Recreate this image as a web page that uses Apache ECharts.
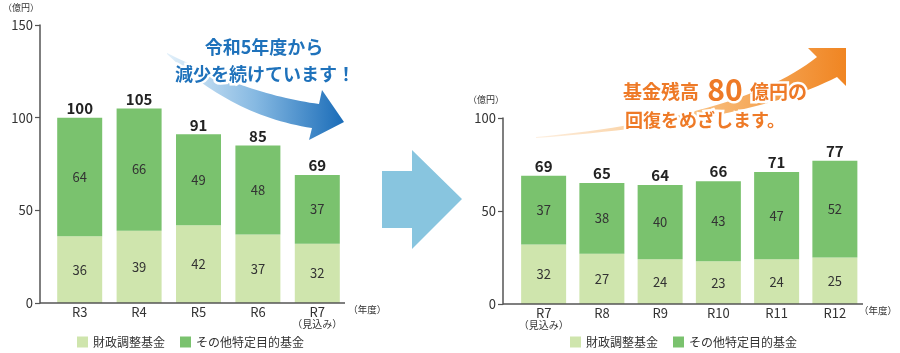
<!DOCTYPE html>
<html>
<head>
<meta charset="utf-8">
<script src="https://cdn.jsdelivr.net/npm/echarts@6.0.0/dist/echarts.min.js"></script>
<style>
  html, body { margin: 0; padding: 0; background: #fff; }
  #chart { width: 900px; height: 353px; }
</style>
</head>
<body>
<div id="chart"></div>
<script>
// 左：これまでの推移（億円）
const leftYears = ['R3', 'R4', 'R5', 'R6', 'R7']
const leftFiscal = [36, 39, 42, 37, 32]   // 財政調整基金
const leftOther = [64, 66, 49, 48, 37]    // その他特定目的基金
const leftTotal = [100, 105, 91, 85, 69]

// 右：今後の見通し（億円）
const rightYears = ['R7', 'R8', 'R9', 'R10', 'R11', 'R12']
const rightFiscal = [32, 27, 24, 23, 24, 25]
const rightOther = [37, 38, 40, 43, 47, 52]
const rightTotal = [69, 65, 64, 66, 71, 77]

const leftTicks = { min: 0, max: 150, interval: 50 }
const rightTicks = { min: 0, max: 100, interval: 50 }

const FONT = '"Noto Sans CJK JP", "Noto Sans", sans-serif'
const LIGHT = '#cfe5ad'
const DARK = '#7ac26e'
const AXIS = '#555'

const chart = echarts.init(document.getElementById('chart'))

// x軸ラベル（R7 は「見込み」を2行目に）
function xLabel(v) {
  return v === 'R7' ? '{a|R7}\n{b|（見込み）}' : '{a|' + v + '}'
}

function xAxisOpt(gridIndex, data, nameGap) {
  return {
    type: 'category',
    gridIndex,
    data,
    axisLine: { show: false },
    axisTick: { show: false },
    name: '（年度）',
    nameLocation: 'end',
    nameGap,
    nameTextStyle: { fontSize: 9.5, color: '#333', fontFamily: FONT, verticalAlign: 'top', padding: [2, 0, 0, 0] },
    axisLabel: {
      interval: 0,
      margin: 2,
      formatter: xLabel,
      rich: {
        a: { fontSize: 13, color: '#333', lineHeight: 14, fontFamily: FONT },
        b: { fontSize: 10, color: '#333', lineHeight: 11, fontFamily: FONT },
      },
    },
  }
}

function yAxisOpt(gridIndex, ticks, offset) {
  return {
    type: 'value',
    gridIndex,
    min: ticks.min,
    max: ticks.max,
    interval: ticks.interval,
    offset,
    splitLine: { show: false },
    axisLine: { show: true, lineStyle: { color: AXIS, width: 1.5 } },
    axisTick: { show: true, length: 5, lineStyle: { color: AXIS, width: 1.2 } },
    axisLabel: { fontSize: 13, color: '#333', margin: 7, fontFamily: FONT },
  }
}

function barSeries(name, idx, data, color, stack) {
  return {
    name,
    type: 'bar',
    xAxisIndex: idx,
    yAxisIndex: idx,
    stack,
    data,
    barWidth: 45,
    itemStyle: { color },
    label: { show: true, position: 'inside', fontSize: 13, color: '#333', fontFamily: FONT },
  }
}

// 合計値（上のラベルだけ表示する透明な棒）
function totalSeries(idx, data) {
  return {
    type: 'bar',
    xAxisIndex: idx,
    yAxisIndex: idx,
    data,
    barWidth: 45,
    barGap: '-100%',
    z: 1,
    itemStyle: { color: 'rgba(0,0,0,0)' },
    label: { show: true, position: 'top', distance: 2, fontSize: 15, fontWeight: 'bold', color: '#222', fontFamily: FONT },
  }
}

function strokedText(text, x, y, size, color, align) {
  const font = 'bold ' + size + 'px ' + FONT
  const base = { text, x, y, font, align: align || 'center', textAlign: align || 'center', verticalAlign: 'middle', textVerticalAlign: 'middle' }
  return [
    { type: 'text', z: 100, style: Object.assign({}, base, { fill: '#fff', stroke: '#fff', lineWidth: 5 }) },
    { type: 'text', z: 101, style: Object.assign({}, base, { fill: color }) },
  ]
}

// 2次ベジェ曲線を点列にする（飾りの矢印用）
function quad(p0, c, p1, n) {
  const pts = []
  for (let i = 0; i <= n; i++) {
    const t = i / n, u = 1 - t
    pts.push([u * u * p0[0] + 2 * u * t * c[0] + t * t * p1[0], u * u * p0[1] + 2 * u * t * c[1] + t * t * p1[1]])
  }
  return pts
}

// 減少の矢印の形
const blueArrow = [
  ...quad([167, 53], [250, 95], [319, 104], 30),
  [322, 90], [344, 122], [309, 140],
  ...quad([312, 128], [232, 116], [167, 54], 30),
]
// 回復の矢印の形
const orangeArrow = [
  ...quad([536, 137], [740, 118], [817, 57], 30),
  [808, 48], [846, 48], [846, 86],
  ...quad([837, 77], [750, 122], [536, 138], 30),
]

const BLUE = '#1f72bb'
const ORANGE = '#ee7a27'

const legendBase = {
  top: 331, icon: 'rect', itemWidth: 11, itemHeight: 11, itemGap: 15,
  selectedMode: false,
  textStyle: { fontSize: 12, color: '#333', fontFamily: FONT },
  data: ['財政調整基金', 'その他特定目的基金'],
}

const option = {
  animation: false,
  grid: [
    { left: 50, top: 25, width: 297, height: 278 },
    { left: 514.5, top: 118, width: 356, height: 186 },
  ],
  xAxis: [xAxisOpt(0, leftYears, -4), xAxisOpt(1, rightYears, -5)],
  yAxis: [yAxisOpt(0, leftTicks, 10), yAxisOpt(1, rightTicks, 11.5)],
  legend: [
    Object.assign({ left: 72 }, legendBase),
    Object.assign({ left: 565 }, legendBase),
  ],
  series: [
    barSeries('財政調整基金', 0, leftFiscal, LIGHT, 'left'),
    barSeries('その他特定目的基金', 0, leftOther, DARK, 'left'),
    totalSeries(0, leftTotal),
    barSeries('財政調整基金', 1, rightFiscal, LIGHT, 'right'),
    barSeries('その他特定目的基金', 1, rightOther, DARK, 'right'),
    totalSeries(1, rightTotal),
  ],
  graphic: [
    // x軸の線
    { type: 'line', shape: { x1: 40, y1: 303, x2: 345, y2: 303 }, style: { stroke: AXIS, lineWidth: 1.5 }, z: 50 },
    { type: 'line', shape: { x1: 503, y1: 304, x2: 863, y2: 304 }, style: { stroke: AXIS, lineWidth: 1.5 }, z: 50 },
    // 単位
    { type: 'text', style: { text: '（億円）', x: 21, y: 8, font: '9px ' + FONT, fill: '#333', align: 'center', textAlign: 'center', verticalAlign: 'middle', textVerticalAlign: 'middle' } },
    { type: 'text', style: { text: '（億円）', x: 486, y: 100, font: '9px ' + FONT, fill: '#333', align: 'center', textAlign: 'center', verticalAlign: 'middle', textVerticalAlign: 'middle' } },
    // 真ん中の矢印
    {
      type: 'polygon',
      shape: { points: [[382, 171], [412, 171], [412, 150], [462, 199], [412, 249], [412, 228], [382, 228]] },
      style: { fill: '#88c5df' },
    },
    {
      type: 'polygon',
      z: 90,
      shape: { points: blueArrow },
      style: {
        fill: new echarts.graphic.LinearGradient(0, 0, 1, 0, [
          { offset: 0, color: '#e2f0fa' },
          { offset: 0.5, color: '#86b9e2' },
          { offset: 1, color: '#1a6cb8' },
        ]),
      },
    },
    {
      type: 'polygon',
      z: 90,
      shape: { points: orangeArrow },
      style: {
        fill: new echarts.graphic.LinearGradient(0, 0, 1, 0, [
          { offset: 0, color: '#fdf0e2' },
          { offset: 0.5, color: '#f9c283' },
          { offset: 1, color: '#f08522' },
        ]),
      },
    },
    ...strokedText('令和5年度から', 264, 47, 18, BLUE),
    ...strokedText('減少を続けています！', 265, 74, 18, BLUE),
    ...strokedText('基金残高', 623, 92, 19, ORANGE, 'left'),
    ...strokedText('80', 725, 90, 30, ORANGE),
    ...strokedText('億円の', 750, 92, 19, ORANGE, 'left'),
    ...strokedText('回復をめざします。', 705, 120, 18, ORANGE),
  ],
}

chart.setOption(option)
</script>
</body>
</html>
